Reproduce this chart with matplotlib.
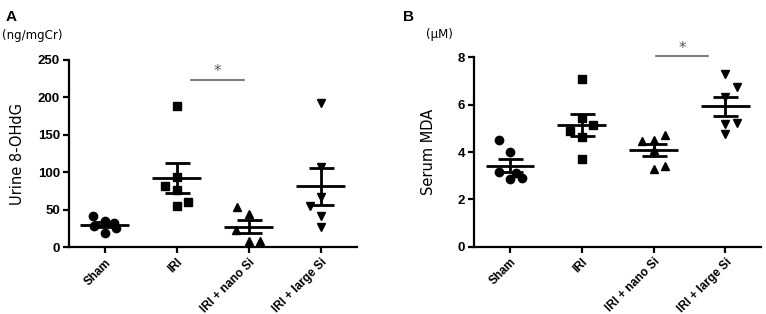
import numpy as np
import matplotlib.pyplot as plt

groups = ["Sham", "IRI", "IRI + nano Si", "IRI + large Si"]
markers = ["o", "s", "^", "v"]

# Panel A - urine 8-OHdG (ng/mgCr), one list per group
a_sham = [42, 35, 33, 28, 26, 19]
a_iri = [188, 94, 82, 76, 55, 60]
a_nano = [54, 44, 23, 9, 9]
a_large = [192, 107, 67, 55, 42, 27]

# Panel B - serum MDA (uM)
b_sham = [4.5, 4.0, 3.15, 3.1, 2.85, 2.9]
b_iri = [7.07, 5.43, 4.9, 5.15, 4.63, 3.71]
b_nano = [4.47, 4.5, 4.72, 4.08, 3.29, 3.43]
b_large = [7.3, 6.74, 6.35, 5.2, 5.22, 4.77]

# sideways spread of the dots so they don't sit on top of each other
a_spread = [[-0.16, 0, 0.13, -0.15, 0.15, 0],
            [0, 0, -0.16, 0, 0, 0.15],
            [-0.16, 0, -0.18, 0, 0.16],
            [0, 0, 0, -0.15, 0, 0]]
b_spread = [[-0.16, 0, -0.16, 0.08, 0, 0.16],
            [0, 0, -0.16, 0.16, 0, 0],
            [-0.16, 0, 0.16, 0, 0, 0.16],
            [0, 0.16, 0, 0, 0.16, 0]]

plt.rcParams["font.family"] = "DejaVu Sans"
fig = plt.figure(figsize=(7.66, 3.14), dpi=100)
axA = fig.add_axes([0.090, 0.212, 0.376, 0.597])
axB = fig.add_axes([0.619, 0.214, 0.375, 0.603])


def dot_plot(ax, data, spread, ylim, yticks):
    for i, (vals, offs) in enumerate(zip(data, spread)):
        vals = np.array(vals, dtype=float)
        x = i + np.array(offs)
        ax.plot(x, vals, linestyle="none", marker=markers[i], markersize=6,
                color="black", clip_on=False, zorder=3)
        mean = vals.mean()
        sem = vals.std(ddof=1) / np.sqrt(len(vals))
        ax.hlines(mean, i - 0.34, i + 0.34, color="black", linewidth=2, zorder=4)
        ax.errorbar(i, mean, yerr=sem, color="black", capsize=9, capthick=2,
                    elinewidth=2, zorder=4)
    ax.set_xlim(-0.5, 3.5)
    ax.set_ylim(*ylim)
    ax.set_yticks(yticks)
    ax.set_xticks(range(len(groups)))
    ax.set_xticklabels(groups, rotation=45, ha="right", va="top",
                       rotation_mode="anchor", fontweight="bold", fontsize=8.5,
                       family="Liberation Sans")
    for lab in ax.get_yticklabels():
        lab.set_fontweight("bold")
        lab.set_family("Liberation Sans")
        lab.set_fontsize(9.5)
    for s in ["top", "right"]:
        ax.spines[s].set_visible(False)
    for s in ["left", "bottom"]:
        ax.spines[s].set_linewidth(1.6)
    ax.tick_params(width=1.6, length=4.5, pad=2)


dot_plot(axA, [a_sham, a_iri, a_nano, a_large], a_spread, (0, 250), range(0, 251, 50))
dot_plot(axB, [b_sham, b_iri, b_nano, b_large], b_spread, (0, 8), range(0, 9, 2))

axA.set_ylabel("Urine 8-OHdG", fontsize=10.5)
axA.yaxis.set_label_coords(-0.153, 0.5)
axB.set_ylabel("Serum MDA", fontsize=10.5)
axB.yaxis.set_label_coords(-0.132, 0.5)

# significance bars
axA.plot([1.19, 1.93], [223, 223], color="#555555", linewidth=1.1, clip_on=False)
axA.text(1.56, 224, "*", ha="center", va="bottom", fontsize=11, color="#555555")
axB.plot([2.03, 2.76], [8.05, 8.05], color="#555555", linewidth=1.1, clip_on=False)
axB.text(2.4, 8.08, "*", ha="center", va="bottom", fontsize=11, color="#555555")

# panel letters and units
fig.text(0.007, 0.945, "A", fontsize=11, fontweight="bold", family="Liberation Sans", va="center")
fig.text(0.526, 0.945, "B", fontsize=11, fontweight="bold", family="Liberation Sans", va="center")
fig.text(0.003, 0.887, "(ng/mgCr)", fontsize=8.5, va="center")
fig.text(0.556, 0.890, "(\u03bcM)", fontsize=8.5, va="center")

fig.savefig("out.png", dpi=100)
